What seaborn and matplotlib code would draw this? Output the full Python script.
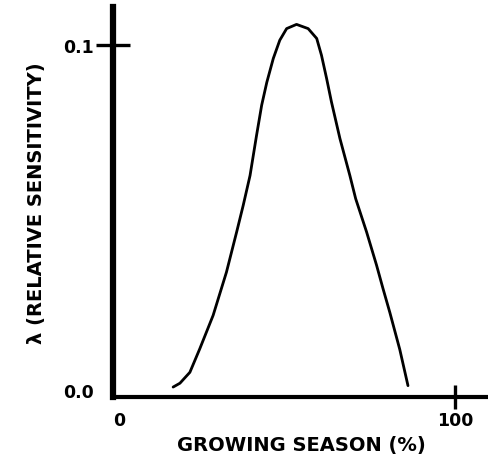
"""Relative sensitivity (lambda) across the growing season."""

import matplotlib
matplotlib.use("Agg")
import matplotlib.pyplot as plt
import seaborn as sns
import pandas as pd

# Values
season_pct = [17.6, 19.6, 22.5, 25.4, 29.3, 33.2, 36.2, 38.1, 40.1, 42.0, 43.5,
              45.0, 46.9, 48.8, 50.8, 53.7, 57.1, 59.6, 61.0, 62.5, 63.9,
              66.4, 69.3, 71.0, 74.2, 77.1, 79.0, 81.0, 83.9, 86.3]
sensitivity = [0.0028, 0.0039, 0.0070, 0.0137, 0.0232, 0.0355, 0.0470, 0.0545,
               0.0630, 0.0744, 0.0830, 0.0895, 0.0963, 0.1015, 0.1048, 0.1060,
               0.1048, 0.1020, 0.0972, 0.0906, 0.0840, 0.0735, 0.0630, 0.0564,
               0.0469, 0.0375, 0.0308, 0.0240, 0.0135, 0.0032]

x_ticks = [0, 100]
x_ticklabels = ["0", "100"]
y_ticks = [0.0, 0.1]
y_ticklabels = ["0.0", "0.1"]

df = pd.DataFrame({"season": season_pct, "lam": sensitivity})

sns.set_style("ticks", {"axes.edgecolor": "black", "text.color": "black",
                        "axes.labelcolor": "black", "xtick.color": "black",
                        "ytick.color": "black"})
plt.rcParams["font.family"] = ["DejaVu Sans"]
plt.rcParams["font.weight"] = "bold"

fig = plt.figure(figsize=(4.89, 4.6), dpi=100)
ax = fig.add_axes([0.231, 0.135, 0.769, 0.848])

sns.lineplot(data=df, x="season", y="lam", ax=ax, color="black",
             linewidth=2.0, sort=False)

ax.set_xlim(0, 110)
ax.set_ylim(0, 0.111)

ax.spines["top"].set_visible(False)
ax.spines["right"].set_visible(False)
ax.spines["left"].set_linewidth(4.5)
ax.spines["bottom"].set_linewidth(3.0)
ax.spines["left"].set_zorder(5)

ax.set_xticks(x_ticks)
ax.set_xticklabels(x_ticklabels, fontsize=12.5, fontweight="bold")
ax.set_yticks(y_ticks)
ax.set_yticklabels(y_ticklabels, fontsize=12.5, fontweight="bold")
ax.tick_params(axis="y", direction="inout", length=24, width=2.4, pad=2)
ax.tick_params(axis="x", direction="inout", length=17, width=2.4, pad=2)

# only the 0.1 and 100 ticks carry a mark
ax.xaxis.get_major_ticks()[0].tick1line.set_visible(False)
ax.yaxis.get_major_ticks()[0].tick1line.set_visible(False)
ax.xaxis.get_major_ticks()[0].label1.set_horizontalalignment("left")
ax.yaxis.get_major_ticks()[0].label1.set_verticalalignment("baseline")

ax.set_xlabel("GROWING SEASON (%)", fontsize=14, fontweight="bold", labelpad=4)
ax.set_ylabel("\u03bb (RELATIVE SENSITIVITY)", fontsize=14, fontweight="bold",
              labelpad=12)

fig.savefig("out.png", dpi=100)
plt.close(fig)
